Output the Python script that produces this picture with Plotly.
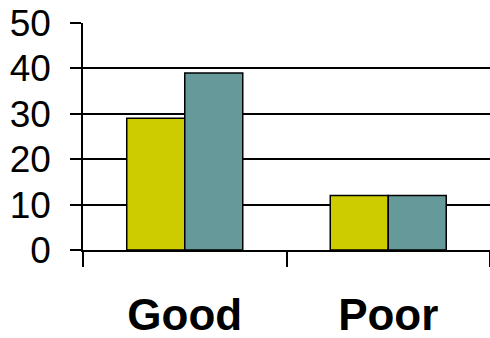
import plotly.graph_objects as go

categories = ["Good", "Poor"]
series_a = [29, 12]   # yellow-green bars
series_b = [39, 12]   # teal bars
y_ticks = [0, 10, 20, 30, 40, 50]

fig = go.Figure()
fig.add_trace(go.Bar(
    x=categories, y=series_a, name="A",
    marker=dict(color="#CCCC00", line=dict(color="black", width=1.5)),
))
fig.add_trace(go.Bar(
    x=categories, y=series_b, name="B",
    marker=dict(color="#669999", line=dict(color="black", width=1.5)),
))

fig.update_layout(
    width=490, height=338,
    margin=dict(l=83, r=0, t=23, b=88),
    paper_bgcolor="white", plot_bgcolor="white",
    barmode="group", bargap=0.43, bargroupgap=0,
    showlegend=False,
    font=dict(family="Liberation Sans, Arial, sans-serif", color="black"),
)
fig.update_yaxes(
    range=[0, 50], tickvals=y_ticks,
    showgrid=True, gridcolor="black", gridwidth=1.5,
    showline=True, linecolor="black", linewidth=1.5,
    ticks="outside", ticklen=11, tickwidth=1.5, tickcolor="black",
    tickfont=dict(size=37), ticklabelstandoff=12,
    zeroline=False, automargin=False,
)
fig.update_xaxes(
    showline=True, linecolor="black", linewidth=2,
    tickson="boundaries", ticks="outside", ticklen=15, tickwidth=1.5, tickcolor="black",
    tickfont=dict(size=44, family="Liberation Sans, Arial, sans-serif", weight="bold"),
    ticklabelstandoff=25,
    showgrid=False, automargin=False,
)

fig.write_html("out.html")
